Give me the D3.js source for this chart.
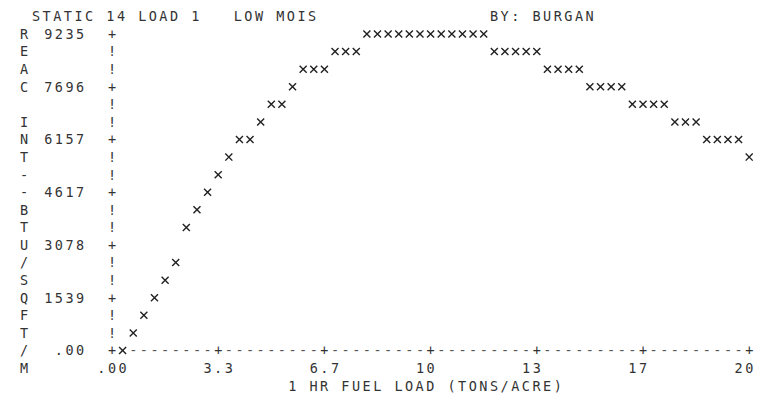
<!DOCTYPE html>
<html><head><meta charset="utf-8">
<script src="https://cdn.jsdelivr.net/npm/d3@7"></script>
<style>
body{margin:0;background:#fff}
svg{display:block;background:#fff}
text{font-family:"DejaVu Sans Mono","Liberation Mono",monospace;font-size:13.5px;fill:#333;white-space:pre}
text.dash{fill:#555}
</style>
</head><body>
<svg id="chart" width="759" height="396"></svg>
<script>
// ---- data ----
const titleText = "STATIC 14 LOAD 1   LOW MOIS";
const authorText = "BY: BURGAN";
const xAxisTitle = "1 HR FUEL LOAD (TONS/ACRE)";
const yAxisTitleChars = ["R","E","A","C","","I","N","T","-","-","B","T","U","/","S","Q","F","T","/","M"];
const xTickValues = [0, 3.333, 6.667, 10, 13.333, 16.667, 20];
const xTickLabels = [".00","3.3","6.7","10","13","17","20"];
const yTickValues = [9235, 7696, 6157, 4617, 3078, 1539, 0];
const yTickLabels = ["9235","7696","6157","4617","3078","1539",".00"];
const fuelLoad = [0.333,0.667,1.000,1.333,1.667,2.000,2.333,2.667,3.000,3.333,
  3.667,4.000,4.333,4.667,5.000,5.333,5.667,6.000,6.333,6.667,
  7.000,7.333,7.667,8.000,8.333,8.667,9.000,9.333,9.667,10.000,
  10.333,10.667,11.000,11.333,11.667,12.000,12.333,12.667,13.000,13.333,
  13.667,14.000,14.333,14.667,15.000,15.333,15.667,16.000,16.333,16.667,
  17.000,17.333,17.667,18.000,18.333,18.667,19.000,19.333,19.667,20.000];
const reactionIntensity = [0,513,1026,1539,2052,2565,3591,4104,4617,5130,
  5643,6157,6157,6670,7183,7183,7696,8209,8209,8209,
  8722,8722,8722,9235,9235,9235,9235,9235,9235,9235,
  9235,9235,9235,9235,9235,8722,8722,8722,8722,8722,
  8209,8209,8209,8209,7696,7696,7696,7696,7183,7183,
  7183,7183,6670,6670,6670,6157,6157,6157,6157,5643];

// ---- layout ----
const svg = d3.select("#chart");
const x = d3.scaleLinear().domain([0, 20]).range([112, 749.2]);
const y = d3.scaleLinear().domain([0, 9235]).range([350.5, 34]);
const colW = (x(20) - x(0)) / 60;
const rowH = (y(0) - y(9235)) / 18;
const rowY = r => y(9235) + r * rowH;
const fs = 13.5, adv = 0.602 * fs, ls = colW - adv, base = 4.9;

function printText(str, firstCx, cy, cls) {
  svg.append("text")
    .attr("class", cls || null)
    .attr("xml:space", "preserve")
    .attr("x", firstCx - adv / 2)
    .attr("y", cy + base)
    .style("letter-spacing", ls + "px")
    .text(str);
}

// title
printText(titleText, 36, rowY(-1));
printText(authorText, 494, rowY(-1));

// left vertical title letters
yAxisTitleChars.forEach((c, i) => { if (c) printText(c, 24, rowY(i)); });

// y tick labels (right aligned 3 columns left of axis)
yTickValues.forEach((v, i) => {
  const lab = yTickLabels[i];
  const lastCx = x(0) - 3 * colW;
  printText(lab, lastCx - (lab.length - 1) * colW, y(v));
});

// y axis column of + and !
for (let r = 0; r <= 18; r++) {
  printText(r % 3 === 0 ? "+" : "!", x(0), rowY(r));
}

// x axis row of + and -
const occupied = new Set();
fuelLoad.forEach((f, i) => { if (reactionIntensity[i] === 0) occupied.add(Math.round(f * 3)); });
for (let c = 1; c <= 60; c++) {
  if (occupied.has(c)) continue;
  printText(c % 10 === 0 ? "+" : "-", x(0) + c * colW, y(0), c % 10 === 0 ? null : "dash");
}

// x tick labels
xTickValues.forEach((v, i) => {
  const lab = xTickLabels[i];
  const lastCx = x(v) + (lab.length === 3 ? colW : 0);
  printText(lab, lastCx - (lab.length - 1) * colW, rowY(19));
});

// x axis title
printText(xAxisTitle, 425 - (xAxisTitle.length - 1) / 2 * colW, rowY(20));

// points
const sym = d3.symbol().type(d3.symbolX).size(34);
svg.append("g").selectAll("path")
  .data(fuelLoad.map((f, i) => [f, reactionIntensity[i]]))
  .join("path")
  .attr("d", sym)
  .attr("transform", d => `translate(${x(d[0])},${y(d[1])})`)
  .attr("fill", "none")
  .attr("stroke", "#222")
  .attr("stroke-width", 1.4);
</script>
</body></html>
